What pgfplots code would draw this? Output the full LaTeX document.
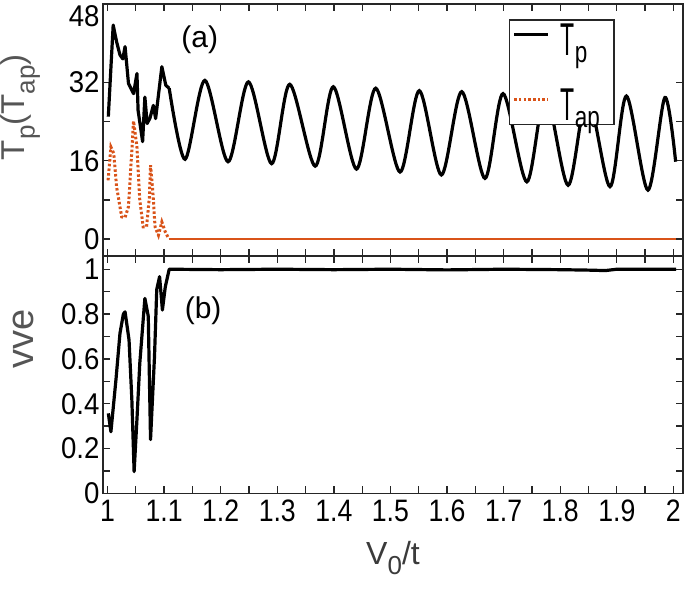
\documentclass[border=0pt]{standalone}
\usepackage{fontspec}
\setmainfont{Liberation Sans}
\newfontfamily\narrowA{Liberation Sans}[FakeStretch=0.86]
\newfontfamily\narrowB{Liberation Sans}[FakeStretch=0.92]
\newfontfamily\narrowL{Liberation Sans}[FakeStretch=0.5]
\newfontfamily\narrowS{Liberation Sans}[FakeStretch=0.75]
\usepackage{pgfplots}
\pgfplotsset{compat=1.18}
\definecolor{morange}{RGB}{217,83,25}
\definecolor{labgray}{RGB}{85,85,85}
\newcommand\lsub[1]{\raisebox{-7pt}{\narrowS\fontsize{30}{30}\selectfont #1}}
\newcommand\ysub[1]{\raisebox{-0.3em}{\fontsize{26}{26}\selectfont #1}}
\begin{document}
\begin{tikzpicture}
\pgfplotsset{
  every axis/.append style={
    scale only axis, width=580pt,
    xmin=0.992, xmax=2.017,
    axis line style={line width=1.6pt, black!85},
    tick style={line width=1.3pt, black!85},
    major tick length=7pt, minor tick length=7pt,
    xticklabel style={font=\narrowA\fontsize{31}{33}\selectfont, yshift=-3pt},
    yticklabel style={font=\narrowB\fontsize{30}{32}\selectfont},
    /pgf/number format/assume math mode=true,
    xtick={1,1.1,1.2,1.3,1.4,1.5,1.6,1.7,1.8,1.9,2},
    minor x tick num=1,
  }
}
% ---------------- bottom panel ----------------
\begin{axis}[at={(0,0)}, anchor=south west, height=237.4pt,
  ymin=0, ymax=1.059,
  ytick={0,0.2,0.4,0.6,0.8,1}, minor y tick num=1,
  yticklabels={0,0.2,0.4,0.6,0.8,1},
  xticklabels={1,1.1,1.2,1.3,1.4,1.5,1.6,1.7,1.8,1.9,2},
  xlabel={V\ysub{0}/t},
  xlabel style={font=\fontsize{32}{34}\selectfont, text=labgray!70!black, yshift=-13pt},
  ylabel={vve},
  ylabel style={font=\fontsize{38}{40}\selectfont, text=labgray, at={(ticklabel cs:0.65,20pt)}},
]
\addplot[black, line width=3.2pt, line join=round] coordinates {
(1.0014,0.357)(1.006,0.275)(1.015,0.51)(1.022,0.714)(1.028,0.80)(1.031,0.81)
(1.038,0.685)(1.043,0.417)(1.047,0.097)(1.052,0.33)(1.057,0.58)(1.066,0.87)
(1.072,0.79)(1.076,0.24)(1.083,0.61)(1.087,0.91)(1.092,0.967)(1.097,0.818)
(1.102,0.92)(1.109,1.0)(1.2,0.998)(1.3,1.0)(1.4,0.998)(1.5,1.0)(1.6,0.997)
(1.7,1.0)(1.8,0.998)(1.85,0.996)(1.88,0.994)(1.9,1.0)(2.005,1.0)};
\node[font=\fontsize{30}{34}\selectfont] at (axis cs:1.169,0.815) {(b)};
\end{axis}
% ---------------- top panel ----------------
\begin{axis}[at={(0,237.4pt)}, anchor=south west, height=252pt,
  ymin=-3.45, ymax=48,
  ytick={0,16,32}, minor y tick num=1,
  extra y ticks={48}, extra y tick labels={48},
  extra y tick style={yticklabel style={yshift=-12pt}},
  xticklabels={},
  ylabel={T\ysub{p}(T\ysub{ap})},
  ylabel style={font=\fontsize{33}{36}\selectfont, text=labgray, at={(ticklabel cs:0.59,22pt)}},
  legend style={at={(0.70,0.939)}, anchor=north west, draw=black!85, line width=1.3pt,
    font=\narrowL\fontsize{46}{46}\selectfont, fill=white, inner xsep=3pt, inner ysep=3pt,
    nodes={inner xsep=3pt, inner ysep=1pt, text depth=0pt},
    row sep=31pt,
    /tikz/every odd column/.append style={column sep=8pt}},
  legend cell align=left,
  legend image code/.code={\draw[#1] (0pt,5pt) -- (34pt,5pt);},
]
\addplot[black, line width=3.2pt, line join=round] coordinates {
(1.0014,25.0)(1.010,43.7)(1.016,40.3)(1.022,37.6)(1.027,36.8)(1.031,39.3)
(1.037,31.8)(1.046,29.7)(1.052,33.8)(1.054,26.3)(1.062,19.9)(1.066,29.0)
(1.070,23.6)(1.075,24.7)(1.081,27.3)(1.085,24.6)(1.096,35.2)(1.103,31.4)(1.109,30.8)};
\addlegendentry{T\lsub{p}}
\addplot[morange, line width=3pt, dash pattern=on 2.5pt off 2.2pt] coordinates {
(1.001,12.0)(1.006,18.8)(1.011,17.5)(1.016,10.7)(1.025,4.55)(1.031,4.4)
(1.037,6.6)(1.043,18.2)(1.046,24.1)(1.052,18.8)(1.057,8.0)(1.063,2.5)
(1.069,2.5)(1.074,8.6)(1.076,15.1)(1.080,9.8)(1.084,2.5)(1.090,0.8)
(1.096,3.5)(1.102,1.5)(1.108,0.1)};
\addlegendentry{T\lsub{ap}\rule{8pt}{0pt}}
\addplot[morange, line width=2.6pt, forget plot] coordinates {(1.108,0.05)(2.005,0.05)};
\addplot[black, line width=3.2pt, smooth, forget plot] coordinates {
(1.109,30.8)(1.137,16.3)(1.172,32.4)(1.213,15.8)(1.249,32.1)(1.290,15.4)
(1.322,31.6)(1.367,14.9)(1.399,31.1)(1.440,14.3)(1.474,30.8)(1.517,13.7)
(1.551,30.3)(1.590,13.1)(1.626,30.1)(1.667,12.4)(1.699,29.7)(1.741,11.7)
(1.774,29.5)(1.814,11.0)(1.848,29.3)(1.888,10.7)(1.917,29.2)(1.955,10.0)
(1.985,28.9)(2.004,15.8)};
\node[font=\fontsize{30}{34}\selectfont] at (axis cs:1.163,40.8) {(a)};
\end{axis}
\pgfresetboundingbox
\useasboundingbox (-103pt,-95.6pt) rectangle (582pt,493.4pt);
\end{tikzpicture}
\end{document}
